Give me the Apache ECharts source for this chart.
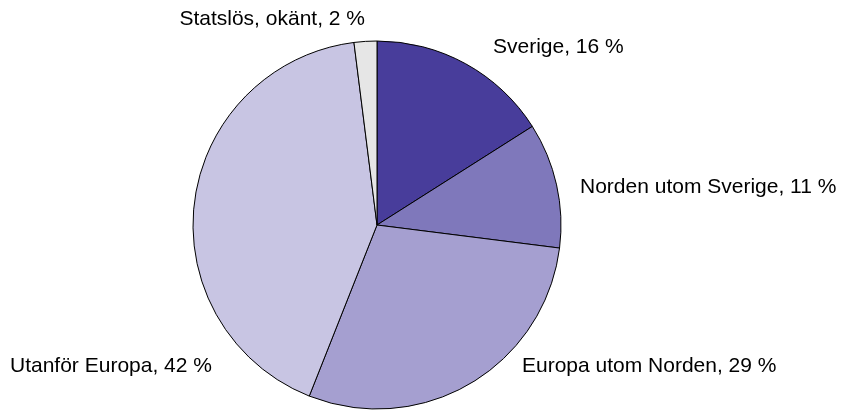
<!DOCTYPE html>
<html>
<head>
<meta charset="utf-8">
<script src="https://cdn.jsdelivr.net/npm/echarts@6/dist/echarts.min.js"></script>
<style>
  html, body { margin: 0; padding: 0; background: #fff; }
  #main { width: 841px; height: 411px; }
</style>
</head>
<body>
<div id="main"></div>
<script>
var categories = ['Sverige', 'Norden utom Sverige', 'Europa utom Norden', 'Utanför Europa', 'Statslös, okänt'];
var shares = [16, 11, 29, 42, 2];
var colors = ['#483d9b', '#7f78bb', '#a59fd0', '#c8c5e3', '#e6e6e6'];

// where each label sits (text anchor, align)
var labelPos = [
    [493, 47, 'left'],
    [580, 187, 'left'],
    [522, 366, 'left'],
    [10, 366, 'left'],
    [365, 19, 'right']
];

var data = [];
for (var i = 0; i < categories.length; i++) {
    data.push({
        name: categories[i],
        value: shares[i],
        itemStyle: { color: colors[i] }
    });
}

var myChart = echarts.init(document.getElementById('main'));
var option = {
    backgroundColor: '#fff',
    animation: false,
    series: [
        {
            type: 'pie',
            center: [377, 225],
            radius: 184,
            startAngle: 90,
            clockwise: true,
            data: data,
            itemStyle: {
                borderColor: '#000',
                borderWidth: 1
            },
            label: {
                show: true,
                position: 'inside',
                formatter: function (p) {
                    return p.name + ', ' + p.value + ' %';
                },
                fontFamily: 'Liberation Sans, Arial, sans-serif',
                fontSize: 21,
                color: '#000',
                textBorderWidth: 0
            },
            labelLine: { show: false },
            labelLayout: function (params) {
                var pos = labelPos[params.dataIndex];
                return {
                    x: pos[0],
                    y: pos[1],
                    align: pos[2],
                    verticalAlign: 'middle'
                };
            },
            emphasis: { disabled: true }
        }
    ]
};
myChart.setOption(option, true);
</script>
</body>
</html>
